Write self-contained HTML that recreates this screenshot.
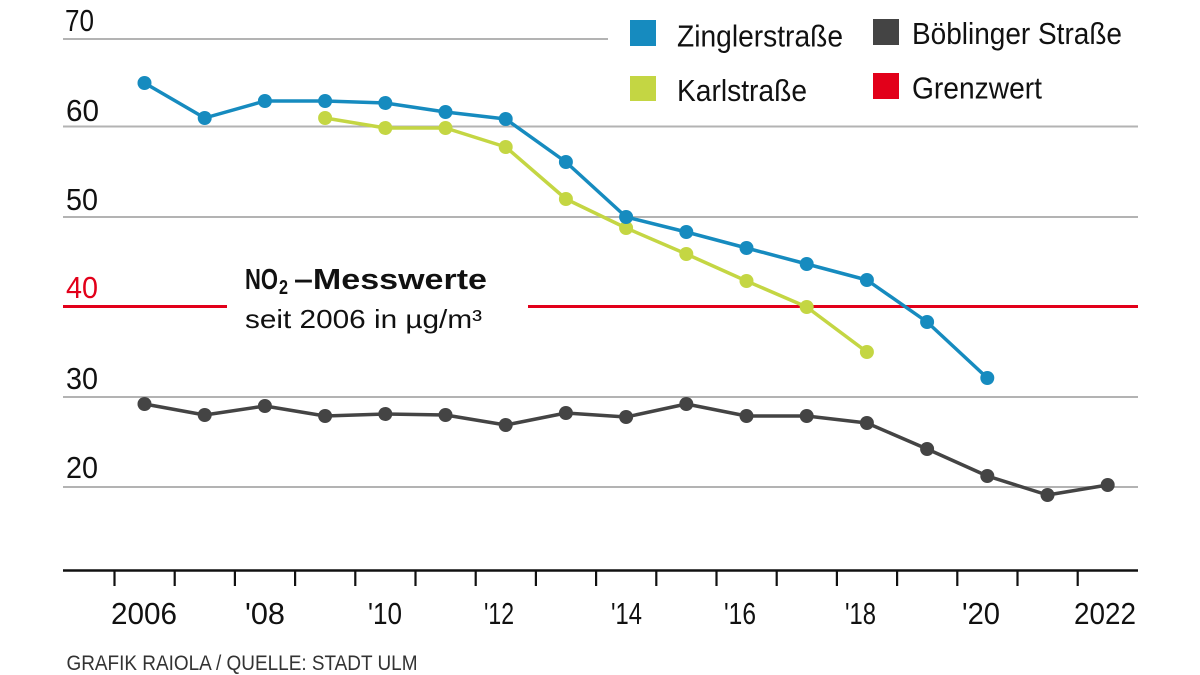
<!DOCTYPE html>
<html>
<head>
<meta charset="utf-8">
<style>
  html,body{margin:0;padding:0;background:#fff;}
  svg{display:block;}
  text{font-family:"Liberation Sans Narrow","Liberation Sans",sans-serif;}
</style>
</head>
<body>
<svg width="1200" height="675" viewBox="0 0 1200 675" xmlns="http://www.w3.org/2000/svg">
  <rect width="1200" height="675" fill="#fff"/>

  <!-- gridlines -->
  <g stroke="#b3b3b3" stroke-width="2">
    <line x1="63" y1="39" x2="608" y2="39"/>
    <line x1="63" y1="126.5" x2="1138" y2="126.5"/>
    <line x1="63" y1="217" x2="1138" y2="217"/>
    <line x1="63" y1="397" x2="1138" y2="397"/>
    <line x1="63" y1="487" x2="1138" y2="487"/>
  </g>
  <!-- red limit line -->
  <g stroke="#e2001a" stroke-width="3">
    <line x1="63" y1="306.5" x2="227" y2="306.5"/>
    <line x1="528" y1="306.5" x2="1138" y2="306.5"/>
  </g>

  <!-- y labels -->
  <g font-size="31" fill="#111">
    <text x="65" y="31" textLength="29" lengthAdjust="spacingAndGlyphs">70</text>
    <text x="66" y="121" textLength="33" lengthAdjust="spacingAndGlyphs">60</text>
    <text x="66" y="210" textLength="32" lengthAdjust="spacingAndGlyphs">50</text>
    <text x="66" y="298" textLength="32" lengthAdjust="spacingAndGlyphs" fill="#e2001a">40</text>
    <text x="66" y="389" textLength="32" lengthAdjust="spacingAndGlyphs">30</text>
    <text x="66" y="478" textLength="32" lengthAdjust="spacingAndGlyphs">20</text>
  </g>

  <!-- x axis -->
  <line x1="63" y1="570.5" x2="1138" y2="570.5" stroke="#111" stroke-width="2.5"/>
  <g stroke="#111" stroke-width="2.2">
    <line x1="114.5" y1="570" x2="114.5" y2="586"/>
    <line x1="174.7" y1="570" x2="174.7" y2="586"/>
    <line x1="234.9" y1="570" x2="234.9" y2="586"/>
    <line x1="295.1" y1="570" x2="295.1" y2="586"/>
    <line x1="355.3" y1="570" x2="355.3" y2="586"/>
    <line x1="415.5" y1="570" x2="415.5" y2="586"/>
    <line x1="475.7" y1="570" x2="475.7" y2="586"/>
    <line x1="535.9" y1="570" x2="535.9" y2="586"/>
    <line x1="596.1" y1="570" x2="596.1" y2="586"/>
    <line x1="656.3" y1="570" x2="656.3" y2="586"/>
    <line x1="716.5" y1="570" x2="716.5" y2="586"/>
    <line x1="776.7" y1="570" x2="776.7" y2="586"/>
    <line x1="836.9" y1="570" x2="836.9" y2="586"/>
    <line x1="897.1" y1="570" x2="897.1" y2="586"/>
    <line x1="957.3" y1="570" x2="957.3" y2="586"/>
    <line x1="1017.5" y1="570" x2="1017.5" y2="586"/>
    <line x1="1077.7" y1="570" x2="1077.7" y2="586"/>
  </g>
  <g font-size="31" fill="#111">
    <text x="111" y="624" textLength="66" lengthAdjust="spacingAndGlyphs">2006</text>
    <text x="245" y="624" textLength="40" lengthAdjust="spacingAndGlyphs">'08</text>
    <text x="368" y="624" textLength="34" lengthAdjust="spacingAndGlyphs">'10</text>
    <text x="484" y="624" textLength="30" lengthAdjust="spacingAndGlyphs">'12</text>
    <text x="611" y="624" textLength="31" lengthAdjust="spacingAndGlyphs">'14</text>
    <text x="724" y="624" textLength="32" lengthAdjust="spacingAndGlyphs">'16</text>
    <text x="845" y="624" textLength="31" lengthAdjust="spacingAndGlyphs">'18</text>
    <text x="962" y="624" textLength="38" lengthAdjust="spacingAndGlyphs">'20</text>
    <text x="1074" y="624" textLength="62" lengthAdjust="spacingAndGlyphs">2022</text>
  </g>

  <!-- footer -->
  <text x="66.5" y="670" font-size="21" fill="#333" textLength="351" lengthAdjust="spacingAndGlyphs">GRAFIK RAIOLA / QUELLE: STADT ULM</text>

  <!-- title -->
  <text x="245" y="289" font-size="29" font-weight="bold" fill="#111" textLength="33" lengthAdjust="spacingAndGlyphs">NO</text>
  <text x="279" y="294" font-size="20" font-weight="bold" fill="#111" textLength="9" lengthAdjust="spacingAndGlyphs">2</text>
  <text x="294" y="289" font-size="29" font-weight="bold" fill="#111" textLength="193" lengthAdjust="spacingAndGlyphs">–Messwerte</text>
  <text x="245" y="328" font-size="26" fill="#111" textLength="237" lengthAdjust="spacingAndGlyphs">seit 2006 in µg/m³</text>

  <!-- Böblinger Straße -->
  <g fill="#444">
    <polyline fill="none" stroke="#444" stroke-width="3.5" stroke-linejoin="round"
      points="144.5,404 204.7,415 264.9,406 325.1,416 385.3,414 445.5,415 505.7,425 565.9,413 626.1,417 686.3,404 746.5,416 806.7,416 866.9,423 927.1,449 987.3,476 1047.5,495 1107.7,485"/>
    <circle cx="144.5" cy="404" r="7"/><circle cx="204.7" cy="415" r="7"/><circle cx="264.9" cy="406" r="7"/>
    <circle cx="325.1" cy="416" r="7"/><circle cx="385.3" cy="414" r="7"/><circle cx="445.5" cy="415" r="7"/>
    <circle cx="505.7" cy="425" r="7"/><circle cx="565.9" cy="413" r="7"/><circle cx="626.1" cy="417" r="7"/>
    <circle cx="686.3" cy="404" r="7"/><circle cx="746.5" cy="416" r="7"/><circle cx="806.7" cy="416" r="7"/>
    <circle cx="866.9" cy="423" r="7"/><circle cx="927.1" cy="449" r="7"/><circle cx="987.3" cy="476" r="7"/>
    <circle cx="1047.5" cy="495" r="7"/><circle cx="1107.7" cy="485" r="7"/>
  </g>

  <!-- Karlstraße -->
  <g fill="#c4d643">
    <polyline fill="none" stroke="#c4d643" stroke-width="3.5" stroke-linejoin="round"
      points="325.1,118 385.3,128 445.5,128 505.7,147 565.9,199 626.1,228 686.3,254 746.5,281 806.7,307 866.9,352"/>
    <circle cx="325.1" cy="118" r="7"/><circle cx="385.3" cy="128" r="7"/><circle cx="445.5" cy="128" r="7"/>
    <circle cx="505.7" cy="147" r="7"/><circle cx="565.9" cy="199" r="7"/><circle cx="626.1" cy="228" r="7"/>
    <circle cx="686.3" cy="254" r="7"/><circle cx="746.5" cy="281" r="7"/><circle cx="806.7" cy="307" r="7"/>
    <circle cx="866.9" cy="352" r="7"/>
  </g>

  <!-- Zinglerstraße -->
  <g fill="#168bbf">
    <polyline fill="none" stroke="#168bbf" stroke-width="3.5" stroke-linejoin="round"
      points="144.5,83 204.7,118 264.9,101 325.1,101 385.3,103 445.5,112 505.7,119 565.9,162 626.1,217 686.3,232 746.5,248 806.7,264 866.9,280 927.1,322 987.3,378"/>
    <circle cx="144.5" cy="83" r="7"/><circle cx="204.7" cy="118" r="7"/><circle cx="264.9" cy="101" r="7"/>
    <circle cx="325.1" cy="101" r="7"/><circle cx="385.3" cy="103" r="7"/><circle cx="445.5" cy="112" r="7"/>
    <circle cx="505.7" cy="119" r="7"/><circle cx="565.9" cy="162" r="7"/><circle cx="626.1" cy="217" r="7"/>
    <circle cx="686.3" cy="232" r="7"/><circle cx="746.5" cy="248" r="7"/><circle cx="806.7" cy="264" r="7"/>
    <circle cx="866.9" cy="280" r="7"/><circle cx="927.1" cy="322" r="7"/><circle cx="987.3" cy="378" r="7"/>
  </g>

  <!-- legend -->
  <rect x="630" y="20" width="26" height="26" fill="#168bbf"/>
  <rect x="873" y="19" width="26" height="26" fill="#444"/>
  <rect x="630" y="76" width="26" height="25" fill="#c4d643"/>
  <rect x="873" y="73" width="26" height="26" fill="#e2001a"/>
  <g font-size="31" fill="#111">
    <text x="677" y="46.5" textLength="166" lengthAdjust="spacingAndGlyphs">Zinglerstraße</text>
    <text x="912" y="44" textLength="210" lengthAdjust="spacingAndGlyphs">Böblinger Straße</text>
    <text x="677" y="101" textLength="130" lengthAdjust="spacingAndGlyphs">Karlstraße</text>
    <text x="912" y="98.5" textLength="130" lengthAdjust="spacingAndGlyphs">Grenzwert</text>
  </g>
</svg>
</body>
</html>
